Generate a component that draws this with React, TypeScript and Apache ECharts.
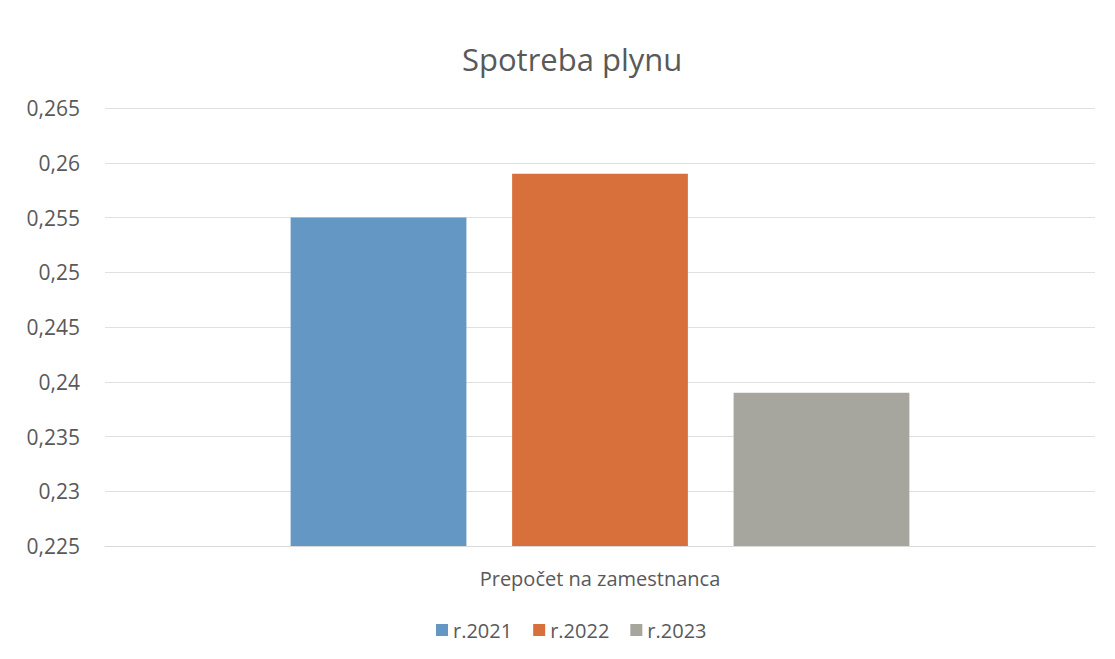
import React, { useEffect, useRef } from "react";
import * as echarts from "echarts";

const categories = ["Prepočet na zamestnanca"];
const seriesNames = ["r.2021", "r.2022", "r.2023"];
const values2021 = [0.255];
const values2022 = [0.259];
const values2023 = [0.239];
const seriesColors = ["#6497c4", "#d8703c", "#a6a69f"];

const FONT = "'Open Sans', 'Liberation Sans', sans-serif";
const TEXT = "#595959";

export default function App() {
  const ref = useRef<HTMLDivElement>(null);
  useEffect(() => {
    if (!ref.current) return;
    const chart = echarts.init(ref.current, undefined, { renderer: "svg" });
    const data = [values2021, values2022, values2023];
    chart.setOption({
      animation: false,
      backgroundColor: "#ffffff",
      textStyle: { fontFamily: FONT },
      title: {
        text: "Spotreba plynu",
        left: 457,
        top: 38,
        textStyle: { fontFamily: FONT, fontSize: 31, fontWeight: "normal", color: TEXT },
      },
      legend: {
        bottom: 14,
        left: 431,
        itemWidth: 12,
        itemHeight: 12,
        itemGap: 21,
        icon: "rect",
        textStyle: { fontFamily: FONT, fontSize: 20, color: TEXT, padding: [0, 0, 0, 0] },
        data: seriesNames,
      },
      grid: { left: 105, right: 20, top: 108, bottom: 113, containLabel: false },
      xAxis: {
        type: "category",
        data: categories,
        axisLine: { show: true, lineStyle: { color: "#d9d9d9" } },
        axisTick: { show: false },
        axisLabel: { fontFamily: FONT, fontSize: 20, color: TEXT, margin: 22 },
      },
      yAxis: {
        type: "value",
        min: 0.225,
        max: 0.265,
        interval: 0.005,
        axisLine: { show: false },
        axisTick: { show: false },
        splitLine: { lineStyle: { color: "#e0e0e0" } },
        axisLabel: {
          fontFamily: FONT,
          fontSize: 21,
          color: TEXT,
          margin: 25,
          formatter: (v: number) => parseFloat(v.toFixed(3)).toString().replace(".", ","),
        },
      },
      series: seriesNames.map((name, i) => ({
        name,
        type: "bar",
        data: data[i],
        barGap: "26%",
        barCategoryGap: "37.5%",
        itemStyle: { color: seriesColors[i] },
      })),
    });
    return () => chart.dispose();
  }, []);
  return (
    <div
      ref={ref}
      style={{ position: "fixed", left: 0, top: 0, width: 1115, height: 659 }}
    />
  );
}
